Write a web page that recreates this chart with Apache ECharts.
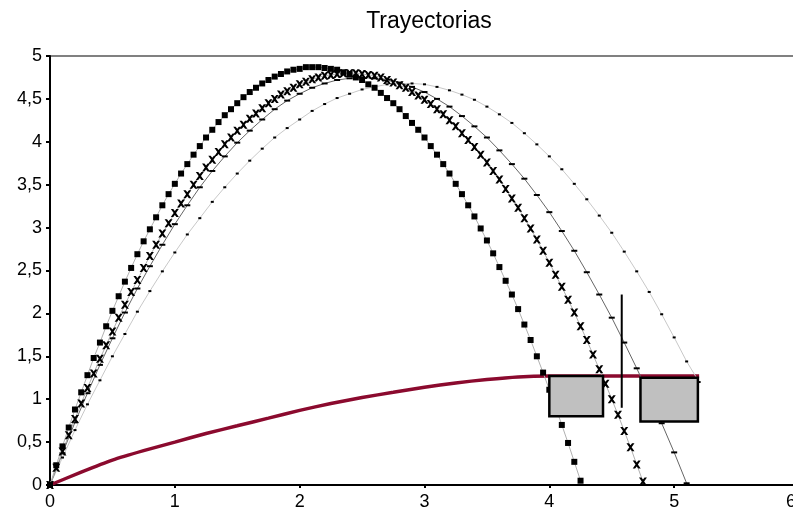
<!DOCTYPE html>
<html>
<head>
<meta charset="utf-8">
<script src="https://cdn.jsdelivr.net/npm/echarts@6/dist/echarts.min.js"></script>
<style>
  html, body { margin: 0; padding: 0; background: #fff; }
  #chart { width: 793px; height: 518px; }
</style>
</head>
<body>
<div id="chart"></div>
<script>
// trayectoria con cuadrados
const trayA = [[0,0],[0.05,0.23],[0.1,0.45],[0.15,0.67],[0.2,0.88],[0.25,1.08],[0.3,1.28],[0.35,1.48],[0.4,1.66],[0.45,1.85],[0.5,2.03],[0.55,2.2],[0.6,2.37],[0.65,2.53],[0.7,2.69],[0.75,2.84],[0.8,2.98],[0.85,3.12],[0.9,3.26],[0.95,3.39],[1,3.51],[1.05,3.63],[1.1,3.74],[1.15,3.85],[1.2,3.95],[1.25,4.05],[1.3,4.14],[1.35,4.23],[1.4,4.31],[1.45,4.38],[1.5,4.45],[1.55,4.52],[1.6,4.58],[1.65,4.63],[1.7,4.68],[1.75,4.72],[1.8,4.76],[1.85,4.79],[1.9,4.82],[1.95,4.84],[2,4.85],[2.05,4.87],[2.1,4.87],[2.15,4.87],[2.2,4.86],[2.25,4.85],[2.3,4.84],[2.35,4.81],[2.4,4.79],[2.45,4.75],[2.5,4.72],[2.55,4.67],[2.6,4.63],[2.65,4.57],[2.7,4.51],[2.75,4.45],[2.8,4.38],[2.85,4.3],[2.9,4.22],[2.95,4.14],[3,4.05],[3.05,3.95],[3.1,3.85],[3.15,3.74],[3.2,3.63],[3.25,3.51],[3.3,3.39],[3.35,3.26],[3.4,3.13],[3.45,2.99],[3.5,2.85],[3.55,2.7],[3.6,2.54],[3.65,2.38],[3.7,2.22],[3.75,2.05],[3.8,1.87],[3.85,1.69],[3.9,1.5],[3.95,1.31],[4,1.11],[4.05,0.91],[4.1,0.7],[4.15,0.49],[4.2,0.27],[4.25,0.05]];
// trayectoria con aspas
const trayB = [[0,0],[0.05,0.2],[0.1,0.39],[0.15,0.58],[0.2,0.77],[0.25,0.95],[0.3,1.13],[0.35,1.3],[0.4,1.47],[0.45,1.63],[0.5,1.79],[0.55,1.95],[0.6,2.1],[0.65,2.25],[0.7,2.39],[0.75,2.53],[0.8,2.67],[0.85,2.8],[0.9,2.93],[0.95,3.05],[1,3.17],[1.05,3.28],[1.1,3.39],[1.15,3.5],[1.2,3.6],[1.25,3.7],[1.3,3.79],[1.35,3.88],[1.4,3.97],[1.45,4.05],[1.5,4.13],[1.55,4.2],[1.6,4.27],[1.65,4.33],[1.7,4.39],[1.75,4.45],[1.8,4.5],[1.85,4.55],[1.9,4.59],[1.95,4.63],[2,4.67],[2.05,4.7],[2.1,4.73],[2.15,4.75],[2.2,4.77],[2.25,4.78],[2.3,4.79],[2.35,4.8],[2.4,4.8],[2.45,4.8],[2.5,4.79],[2.55,4.78],[2.6,4.77],[2.65,4.75],[2.7,4.72],[2.75,4.69],[2.8,4.66],[2.85,4.63],[2.9,4.58],[2.95,4.54],[3,4.49],[3.05,4.44],[3.1,4.38],[3.15,4.32],[3.2,4.25],[3.25,4.18],[3.3,4.1],[3.35,4.02],[3.4,3.94],[3.45,3.85],[3.5,3.76],[3.55,3.66],[3.6,3.56],[3.65,3.45],[3.7,3.34],[3.75,3.23],[3.8,3.11],[3.85,2.99],[3.9,2.86],[3.95,2.73],[4,2.59],[4.05,2.45],[4.1,2.31],[4.15,2.16],[4.2,2.01],[4.25,1.85],[4.3,1.69],[4.35,1.52],[4.4,1.35],[4.45,1.18],[4.5,1],[4.55,0.82],[4.6,0.63],[4.65,0.44],[4.7,0.24],[4.75,0.04]];
// trayectoria con guiones
const trayC = [[0,0],[0.1,0.37],[0.2,0.73],[0.3,1.07],[0.4,1.4],[0.5,1.71],[0.6,2.01],[0.7,2.29],[0.8,2.55],[0.9,2.8],[1,3.04],[1.1,3.26],[1.2,3.47],[1.3,3.66],[1.4,3.83],[1.5,3.99],[1.6,4.13],[1.7,4.26],[1.8,4.38],[1.9,4.48],[2,4.56],[2.1,4.63],[2.2,4.68],[2.3,4.72],[2.4,4.74],[2.5,4.75],[2.6,4.74],[2.7,4.72],[2.8,4.69],[2.9,4.64],[3,4.58],[3.1,4.5],[3.2,4.41],[3.3,4.3],[3.4,4.18],[3.5,4.05],[3.6,3.9],[3.7,3.74],[3.8,3.57],[3.9,3.38],[4,3.18],[4.1,2.96],[4.2,2.73],[4.3,2.48],[4.4,2.22],[4.5,1.95],[4.6,1.66],[4.7,1.36],[4.8,1.05],[4.9,0.72],[5,0.38],[5.1,0.02]];
// trayectoria punteada
const trayD = [[0,0],[0.1,0.32],[0.2,0.64],[0.3,0.94],[0.4,1.22],[0.5,1.5],[0.6,1.76],[0.7,2.02],[0.8,2.26],[0.9,2.49],[1,2.71],[1.1,2.92],[1.2,3.11],[1.3,3.3],[1.4,3.47],[1.5,3.63],[1.6,3.78],[1.7,3.92],[1.8,4.05],[1.9,4.16],[2,4.26],[2.1,4.36],[2.2,4.44],[2.3,4.51],[2.4,4.56],[2.5,4.61],[2.6,4.64],[2.7,4.67],[2.8,4.68],[2.9,4.68],[3,4.67],[3.1,4.64],[3.2,4.6],[3.3,4.55],[3.4,4.49],[3.5,4.41],[3.6,4.32],[3.7,4.22],[3.8,4.1],[3.9,3.97],[4,3.83],[4.1,3.68],[4.2,3.51],[4.3,3.33],[4.4,3.14],[4.5,2.94],[4.6,2.72],[4.7,2.49],[4.8,2.25],[4.9,1.99],[5,1.72],[5.1,1.44],[5.2,1.2]];
// curva roja
const curvaRoja = [[0,0],[0.25,0.15],[0.5,0.29],[0.75,0.4],[1,0.5],[1.25,0.6],[1.5,0.69],[1.75,0.78],[2,0.87],[2.25,0.95],[2.5,1.02],[2.75,1.08],[3,1.14],[3.25,1.19],[3.5,1.23],[3.75,1.26],[4,1.27],[4.5,1.27],[5,1.27],[5.2,1.27]];
// rectangulos: [x0, x1, y0, y1]
const cajas = [[4.0, 4.43, 0.80, 1.27], [4.73, 5.19, 0.74, 1.25]];
// poste vertical
const poste = [[4.58, 0.90], [4.58, 2.22]];

const crossPath = 'path://M0,0L3,0L5,2.5L7,0L10,0L6.5,5L10,10L7,10L5,7.5L3,10L0,10L3.5,5Z';
const fnt = 'Liberation Sans, Arial, sans-serif';

const chart = echarts.init(document.getElementById('chart'));

chart.setOption({
  animation: false,
  title: {
    text: 'Trayectorias',
    left: 424,
    textAlign: 'center',
    top: 5,
    textStyle: { fontFamily: fnt, fontSize: 23, fontWeight: 'normal', color: '#000' }
  },
  grid: {
    left: 50, right: -6, top: 56, bottom: 33,
    outerBoundsMode: 'none',
    containLabel: false,
    show: true, borderColor: '#808080', borderWidth: 2
  },
  xAxis: {
    type: 'value', min: 0, max: 6, interval: 1,
    splitLine: { show: false },
    axisLine: { onZero: false, lineStyle: { color: '#000', width: 2 } },
    axisTick: { show: true, length: 3, lineStyle: { color: '#000', width: 2 } },
    axisLabel: {
      color: '#000', fontFamily: fnt, fontSize: 18, margin: 8, hideOverlap: false,
      // el 6 queda medio cortado en el borde derecho
      formatter: v => (v === 6 ? '{seis|6}' : String(v)),
      rich: { seis: { fontFamily: fnt, fontSize: 18, color: '#000', padding: [0, 16, 0, 0] } }
    }
  },
  yAxis: {
    type: 'value', min: 0, max: 5, interval: 0.5,
    splitLine: { show: false },
    axisLine: { show: true, lineStyle: { color: '#000', width: 2 } },
    axisTick: { show: true, length: 4, lineStyle: { color: '#000', width: 2 } },
    axisLabel: {
      color: '#000', fontFamily: fnt, fontSize: 18, margin: 8,
      formatter: v => String(v).replace('.', ',')
    }
  },
  series: [
    {
      type: 'line', data: curvaRoja, symbol: 'none', smooth: 0.2, z: 2,
      lineStyle: { color: '#8b0a2e', width: 3.5 }
    },
    {
      type: 'line', data: trayD, symbol: 'rect', symbolSize: [3, 2], z: 3,
      itemStyle: { color: '#000' },
      lineStyle: { color: '#c8c8c8', width: 1 }
    },
    {
      type: 'line', data: trayC, symbol: 'rect', symbolSize: [6, 2], z: 3,
      itemStyle: { color: '#000' },
      lineStyle: { color: '#666', width: 1 }
    },
    {
      type: 'line', data: trayB, symbol: crossPath, symbolSize: 8, z: 4,
      itemStyle: { color: '#000' },
      lineStyle: { color: '#b0b0b0', width: 1 }
    },
    {
      type: 'line', data: trayA, symbol: 'rect', symbolSize: 6, z: 4,
      itemStyle: { color: '#000' },
      lineStyle: { color: '#b0b0b0', width: 1 }
    },
    {
      type: 'custom', data: cajas, z: 6,
      encode: { x: [0, 1], y: [2, 3] },
      renderItem: (params, api) => {
        const p0 = api.coord([api.value(0), api.value(3)]);
        const p1 = api.coord([api.value(1), api.value(2)]);
        return {
          type: 'rect',
          shape: { x: p0[0], y: p0[1], width: p1[0] - p0[0], height: p1[1] - p0[1] },
          style: { fill: '#c0c0c0', stroke: '#000', lineWidth: 2.5 }
        };
      }
    },
    {
      type: 'line', data: poste, symbol: 'none', z: 6,
      lineStyle: { color: '#000', width: 2 }
    }
  ]
});
</script>
</body>
</html>
